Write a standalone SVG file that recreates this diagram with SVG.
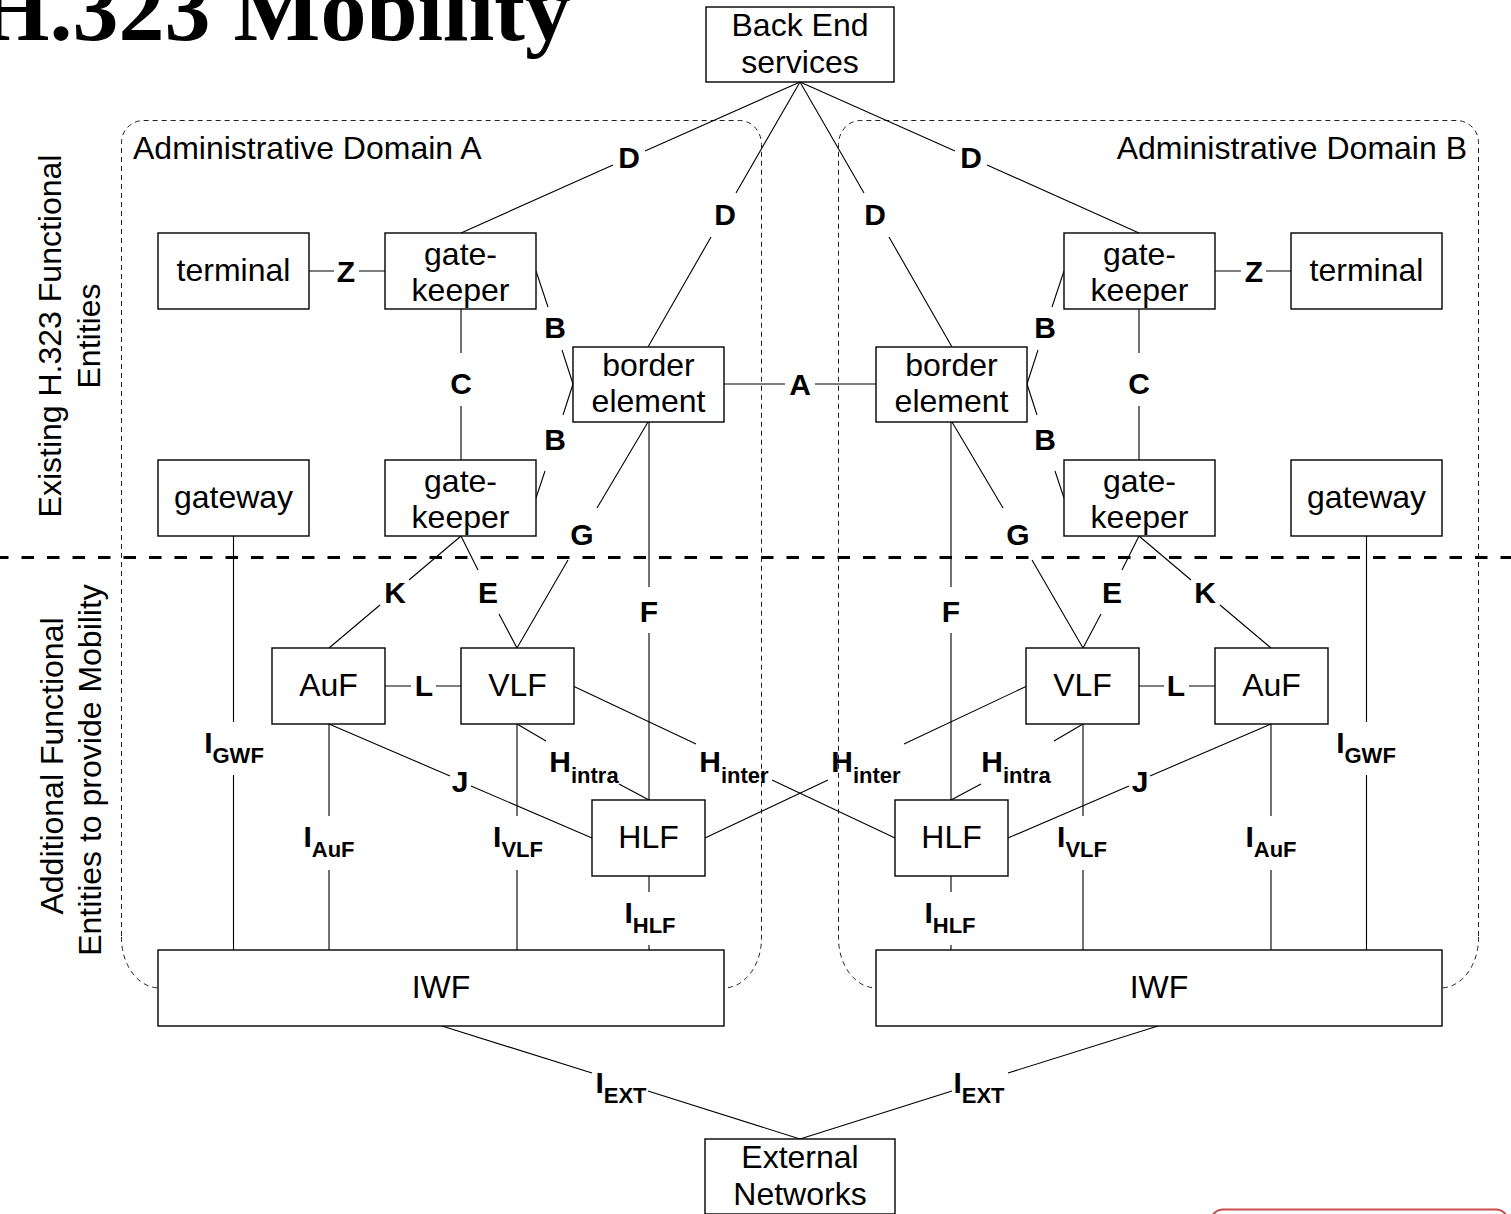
<svg xmlns="http://www.w3.org/2000/svg" width="1511" height="1214" viewBox="0 0 1511 1214">
  <style>
    .box { fill: #ffffff; stroke: #000000; stroke-width: 1.4; }
    .conn { fill: none; stroke: #000000; stroke-width: 1.1; }
    .domain { fill: none; stroke: #222222; stroke-width: 1; stroke-dasharray: 5 4; }
    .split { fill: none; stroke: #000000; stroke-width: 3; stroke-dasharray: 12.5 13; }
    .txt { font-family: "Liberation Sans", Arial, sans-serif; font-size: 32px; fill: #000000; text-anchor: middle; }
    .lbl { font-family: "Liberation Sans", Arial, sans-serif; font-size: 30px; font-weight: bold; fill: #000000; text-anchor: middle; }
    .sub { font-size: 22px; }
    .side { font-family: "Liberation Sans", Arial, sans-serif; font-size: 32px; fill: #000000; text-anchor: middle; }
    .title { font-family: "Liberation Serif", "Times New Roman", serif; font-size: 92px; font-weight: bold; fill: #000000; }
  </style>

  <rect width="1511" height="1214" fill="#ffffff"/>

  <!-- slide title, partly outside the page -->
  <text class="title" x="-22" y="40">H.323 Mobility</text>

  <!-- administrative domains -->
  <g id="domains">
    <path id="domain-a" class="domain" d="M121.5,936 V142.5 A22,22 0 0 1 143.5,120.5 H739.5 A22,24 0 0 1 761.5,144.5 V938 A38,50 0 0 1 723.5,988 H159.5 A38,50 0 0 1 121.5,938 Z"/>
    <path id="domain-b" class="domain" d="M1478.5,936 V142.5 A22,22 0 0 0 1456.5,120.5 H860.5 A22,24 0 0 0 838.5,144.5 V938 A38,50 0 0 0 876.5,988 H1440.5 A38,50 0 0 0 1478.5,938 Z"/>
    <text class="txt" x="133" y="159" style="text-anchor:start">Administrative Domain A</text>
    <text class="txt" x="1467" y="159" style="text-anchor:end">Administrative Domain B</text>
  </g>

  <!-- boundary between existing and added entities -->
  <line class="split" x1="-4" y1="557.5" x2="1511" y2="557.5"/>

  <!-- side captions -->
  <g id="captions">
    <text class="side" transform="translate(61,336) rotate(-90)">Existing H.323 Functional</text>
    <text class="side" transform="translate(100,336) rotate(-90)">Entities</text>
    <text class="side" transform="translate(63,766) rotate(-90)">Additional Functional</text>
    <text class="side" transform="translate(101,770) rotate(-90)">Entities to provide Mobility</text>
  </g>

  <!-- connectors (gaps leave room for the interface labels) -->
  <g id="connectors" class="conn">
    <!-- domain A -->
    <path d="M461,233 L613,165 M645,151 L800,82"/>
    <path d="M648,347 L711,237 M736,193 L800,82"/>
    <path d="M309,271 H334 M359,271 H385"/>
    <path d="M461,309 V353 M461,406 V460"/>
    <path d="M536,271 L548,307 M562,350 L573,384"/>
    <path d="M573,384 L563,415 M545,471 L536,498"/>
    <path d="M724,384 H785 M815,384 H876"/>
    <path d="M648,422 L597,508 M568,560 L517,648"/>
    <path d="M649,422 V587 M649,633 V800"/>
    <path d="M461,536 L409,580 M380,605 L329,648"/>
    <path d="M461,536 L478,570 M499,614 L517,648"/>
    <path d="M385,686 H411 M436,686 H461"/>
    <path d="M233.5,536 V722 M233.5,775 V950"/>
    <path d="M329,724 V816 M329,870 V950"/>
    <path d="M517,724 V816 M517,870 V950"/>
    <path d="M329,724 L450,776 M471,786 L592,838"/>
    <path d="M517,724 L546,741 M619,784 L649,800"/>
    <path d="M573,686 L696,744 M772,780 L895,838"/>
    <path d="M649,876 V892 M649,945 V950"/>
    <path d="M442,1026 L592,1073 M648,1091 L800,1139"/>
    <!-- domain B -->
    <path d="M1139,233 L987,165 M955,151 L800,82"/>
    <path d="M952,347 L889,237 M864,193 L800,82"/>
    <path d="M1291,271 H1266 M1241,271 H1215"/>
    <path d="M1139,309 V353 M1139,406 V460"/>
    <path d="M1064,271 L1052,307 M1038,350 L1027,384"/>
    <path d="M1027,384 L1037,415 M1055,471 L1064,498"/>
    <path d="M952,422 L1003,508 M1032,560 L1083,648"/>
    <path d="M951,422 V587 M951,633 V800"/>
    <path d="M1139,536 L1191,580 M1220,605 L1271,648"/>
    <path d="M1139,536 L1122,570 M1101,614 L1083,648"/>
    <path d="M1215,686 H1189 M1164,686 H1139"/>
    <path d="M1366.5,536 V722 M1366.5,775 V950"/>
    <path d="M1271,724 V816 M1271,870 V950"/>
    <path d="M1083,724 V816 M1083,870 V950"/>
    <path d="M1271,724 L1150,776 M1129,786 L1008,838"/>
    <path d="M1083,724 L1054,741 M981,784 L951,800"/>
    <path d="M1027,686 L904,744 M828,780 L705,838"/>
    <path d="M951,876 V892 M951,945 V950"/>
    <path d="M1158,1026 L1008,1073 M952,1091 L800,1139"/>
  </g>

  <!-- interface labels -->
  <g id="labels" class="lbl">
    <text x="629" y="168">D</text>
    <text x="725" y="225">D</text>
    <text x="346" y="282">Z</text>
    <text x="461" y="394">C</text>
    <text x="555" y="338">B</text>
    <text x="555" y="450">B</text>
    <text x="800" y="395">A</text>
    <text x="582" y="545">G</text>
    <text x="395" y="603">K</text>
    <text x="488" y="603">E</text>
    <text x="649" y="622">F</text>
    <text x="424" y="696">L</text>
    <text x="460" y="792">J</text>
    <text x="234" y="753">I<tspan class="sub" dy="10">GWF</tspan></text>
    <text x="329" y="847">I<tspan class="sub" dy="10">AuF</tspan></text>
    <text x="518" y="847">I<tspan class="sub" dy="10">VLF</tspan></text>
    <text x="584" y="772">H<tspan class="sub" dy="11">intra</tspan></text>
    <text x="734" y="772">H<tspan class="sub" dy="11">inter</tspan></text>
    <text x="650" y="923">I<tspan class="sub" dy="10">HLF</tspan></text>
    <text x="621" y="1093">I<tspan class="sub" dy="10">EXT</tspan></text>

    <text x="971" y="168">D</text>
    <text x="875" y="225">D</text>
    <text x="1254" y="282">Z</text>
    <text x="1139" y="394">C</text>
    <text x="1045" y="338">B</text>
    <text x="1045" y="450">B</text>
    <text x="1018" y="545">G</text>
    <text x="1205" y="603">K</text>
    <text x="1112" y="603">E</text>
    <text x="951" y="622">F</text>
    <text x="1176" y="696">L</text>
    <text x="1140" y="792">J</text>
    <text x="1366" y="753">I<tspan class="sub" dy="10">GWF</tspan></text>
    <text x="1271" y="847">I<tspan class="sub" dy="10">AuF</tspan></text>
    <text x="1082" y="847">I<tspan class="sub" dy="10">VLF</tspan></text>
    <text x="1016" y="772">H<tspan class="sub" dy="11">intra</tspan></text>
    <text x="866" y="772">H<tspan class="sub" dy="11">inter</tspan></text>
    <text x="950" y="923">I<tspan class="sub" dy="10">HLF</tspan></text>
    <text x="979" y="1093">I<tspan class="sub" dy="10">EXT</tspan></text>
  </g>

  <!-- nodes -->
  <g id="backend">
    <rect class="box" x="706" y="7" width="188" height="75"/>
    <text class="txt" x="800" y="36">Back End</text>
    <text class="txt" x="800" y="73">services</text>
  </g>
  <g id="terminal-a">
    <rect class="box" x="158" y="233" width="151" height="76"/>
    <text class="txt" x="233.5" y="281">terminal</text>
  </g>
  <g id="gatekeeper-a1">
    <rect class="box" x="385" y="233" width="151" height="76"/>
    <text class="txt" x="460.5" y="265">gate-</text>
    <text class="txt" x="460.5" y="301">keeper</text>
  </g>
  <g id="border-element-a">
    <rect class="box" x="573" y="347" width="151" height="75"/>
    <text class="txt" x="648.5" y="376">border</text>
    <text class="txt" x="648.5" y="412">element</text>
  </g>
  <g id="gateway-a">
    <rect class="box" x="158" y="460" width="151" height="76"/>
    <text class="txt" x="233.5" y="508">gateway</text>
  </g>
  <g id="gatekeeper-a2">
    <rect class="box" x="385" y="460" width="151" height="76"/>
    <text class="txt" x="460.5" y="492">gate-</text>
    <text class="txt" x="460.5" y="528">keeper</text>
  </g>
  <g id="auf-a">
    <rect class="box" x="272" y="648" width="113" height="76"/>
    <text class="txt" x="328.5" y="696">AuF</text>
  </g>
  <g id="vlf-a">
    <rect class="box" x="461" y="648" width="113" height="76"/>
    <text class="txt" x="517.5" y="696">VLF</text>
  </g>
  <g id="hlf-a">
    <rect class="box" x="592" y="800" width="113" height="76"/>
    <text class="txt" x="648.5" y="848">HLF</text>
  </g>
  <g id="iwf-a">
    <rect class="box" x="158" y="950" width="566" height="76"/>
    <text class="txt" x="441" y="998">IWF</text>
  </g>

  <g id="terminal-b">
    <rect class="box" x="1291" y="233" width="151" height="76"/>
    <text class="txt" x="1366.5" y="281">terminal</text>
  </g>
  <g id="gatekeeper-b1">
    <rect class="box" x="1064" y="233" width="151" height="76"/>
    <text class="txt" x="1139.5" y="265">gate-</text>
    <text class="txt" x="1139.5" y="301">keeper</text>
  </g>
  <g id="border-element-b">
    <rect class="box" x="876" y="347" width="151" height="75"/>
    <text class="txt" x="951.5" y="376">border</text>
    <text class="txt" x="951.5" y="412">element</text>
  </g>
  <g id="gateway-b">
    <rect class="box" x="1291" y="460" width="151" height="76"/>
    <text class="txt" x="1366.5" y="508">gateway</text>
  </g>
  <g id="gatekeeper-b2">
    <rect class="box" x="1064" y="460" width="151" height="76"/>
    <text class="txt" x="1139.5" y="492">gate-</text>
    <text class="txt" x="1139.5" y="528">keeper</text>
  </g>
  <g id="auf-b">
    <rect class="box" x="1215" y="648" width="113" height="76"/>
    <text class="txt" x="1271.5" y="696">AuF</text>
  </g>
  <g id="vlf-b">
    <rect class="box" x="1026" y="648" width="113" height="76"/>
    <text class="txt" x="1082.5" y="696">VLF</text>
  </g>
  <g id="hlf-b">
    <rect class="box" x="895" y="800" width="113" height="76"/>
    <text class="txt" x="951.5" y="848">HLF</text>
  </g>
  <g id="iwf-b">
    <rect class="box" x="876" y="950" width="566" height="76"/>
    <text class="txt" x="1159" y="998">IWF</text>
  </g>

  <g id="external-networks">
    <rect class="box" x="705" y="1139" width="190" height="75"/>
    <text class="txt" x="800" y="1168">External</text>
    <text class="txt" x="800" y="1205">Networks</text>
  </g>

  <!-- highlight frame at the lower right, mostly off the page -->
  <rect x="1211" y="1209.5" width="297" height="60" rx="12" fill="none" stroke="#c94c4c" stroke-width="2"/>
</svg>
